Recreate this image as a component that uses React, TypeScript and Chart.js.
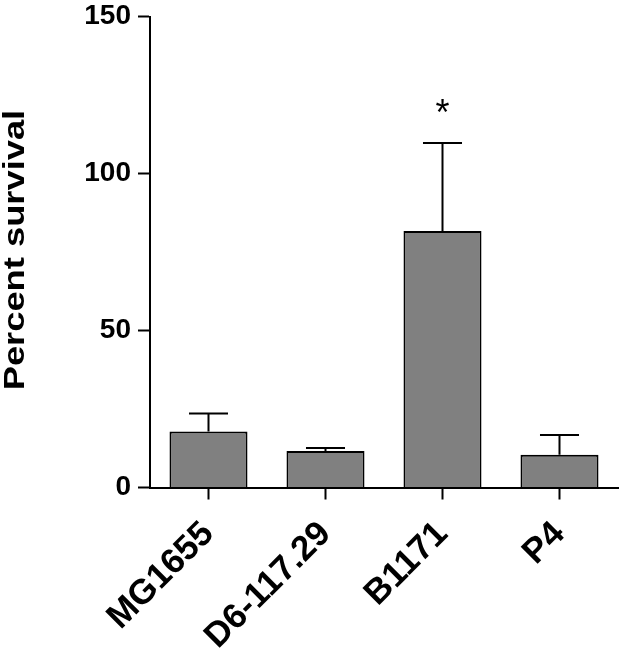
import React, { useEffect, useRef } from "react";
import { Chart, registerables } from "chart.js";

Chart.register(...registerables);

const categories = ["MG1655", "D6-117.29", "B1171", "P4"];
const means = [17.8, 11.6, 81.7, 10.4];
const errors = [5.8, 1.0, 28.0, 6.3];
const marks = ["", "", "*", ""];
const yTicks = [0, 50, 100, 150];
const yTitle = "Percent survival";

const FONT = "'Liberation Sans', Arial, Helvetica, sans-serif";

const errorBarPlugin = {
  id: "errorBars",
  afterDatasetsDraw(chart: any) {
    const ctx = chart.ctx;
    const meta = chart.getDatasetMeta(0);
    const y = chart.scales.y;
    ctx.save();
    ctx.strokeStyle = "#000";
    ctx.lineWidth = 2;
    meta.data.forEach((bar: any, i: number) => {
      const x = bar.x;
      const yBar = y.getPixelForValue(means[i]);
      const yErr = y.getPixelForValue(means[i] + errors[i]);
      const half = bar.width / 4;
      ctx.beginPath();
      ctx.moveTo(x, yBar);
      ctx.lineTo(x, yErr);
      ctx.moveTo(x - half, yErr);
      ctx.lineTo(x + half, yErr);
      ctx.stroke();
      if (marks[i]) {
        ctx.fillStyle = "#000";
        ctx.font = `36px ${FONT}`;
        ctx.textAlign = "center";
        ctx.textBaseline = "alphabetic";
        ctx.fillText(marks[i], x, yErr - 18);
      }
    });
    ctx.restore();
  },
};

const yTitlePlugin = {
  id: "yTitleStretched",
  afterDraw(chart: any) {
    const ctx = chart.ctx;
    const area = chart.chartArea;
    ctx.save();
    ctx.fillStyle = "#000";
    ctx.font = `bold 30px ${FONT}`;
    ctx.textAlign = "center";
    ctx.textBaseline = "alphabetic";
    ctx.translate(24, (area.top + area.bottom) / 2 - 2);
    ctx.rotate(-Math.PI / 2);
    ctx.scale(1.21, 1);
    ctx.fillText(yTitle, 0, 0);
    ctx.restore();
  },
};

export default function App() {
  const ref = useRef<HTMLCanvasElement | null>(null);
  useEffect(() => {
    if (!ref.current) return;
    const chart = new Chart(ref.current, {
      type: "bar",
      data: {
        labels: categories,
        datasets: [
          {
            data: means,
            backgroundColor: "#808080",
            borderColor: "#000",
            borderWidth: 2,
            barPercentage: 0.667,
            categoryPercentage: 1,
          },
        ],
      },
      options: {
        animation: false,
        responsive: false,
        maintainAspectRatio: false,
        layout: { padding: { top: 16.6, right: 7, left: 0, bottom: 0 } },
        plugins: {
          legend: { display: false },
          tooltip: { enabled: false },
        },
        scales: {
          y: {
            min: 0,
            max: 150,
            afterBuildTicks: (scale: any) => {
              scale.ticks = yTicks.map((v) => ({ value: v }));
            },
            afterFit: (scale: any) => {
              scale.width = 150;
              scale.paddingTop = 0;
              scale.paddingBottom = 0;
            },
            ticks: {
              color: "#000",
              font: { family: FONT, size: 28, weight: "bold" },
              padding: 7,
            },
            grid: {
              drawOnChartArea: false,
              drawTicks: true,
              tickLength: 12,
              tickWidth: 2,
              tickColor: "#000",
              color: "#000",
            },
            border: { display: true, color: "#000", width: 2 },
          },
          x: {
            afterFit: (scale: any) => {
              scale.height = 165.5;
              scale.paddingLeft = 0;
              scale.paddingRight = 0;
            },
            ticks: {
              color: "#000",
              font: { family: FONT, size: 35, weight: "bold", lineHeight: 1.45 },
              minRotation: 45,
              maxRotation: 45,
              padding: 11,
              autoSkip: false,
            },
            grid: {
              offset: false,
              drawOnChartArea: false,
              drawTicks: true,
              tickLength: 12,
              tickWidth: 2,
              tickColor: "#000",
              color: "#000",
            },
            border: { display: true, color: "#000", width: 2 },
          },
        },
      },
      plugins: [errorBarPlugin, yTitlePlugin],
    } as any);
    return () => chart.destroy();
  }, []);
  return (
    <div style={{ position: "fixed", left: 0, top: 0, width: 625, height: 653, background: "#fff" }}>
      <canvas ref={ref} width={625} height={653} style={{ display: "block" }} />
    </div>
  );
}
